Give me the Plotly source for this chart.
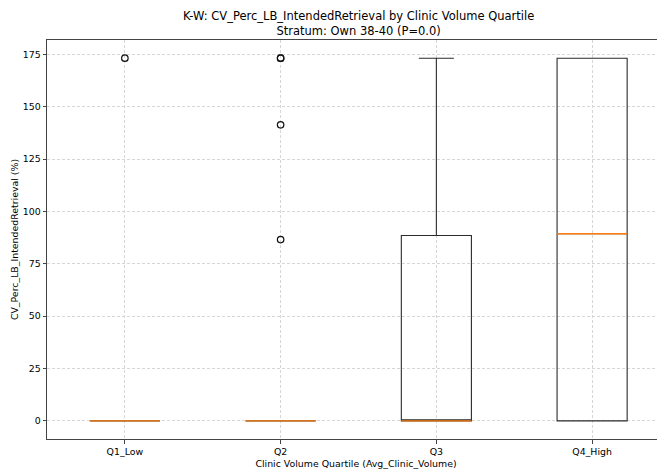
import plotly.graph_objects as go

categories = ["Q1_Low", "Q2", "Q3", "Q4_High"]
positions = [1, 2, 3, 4]
q1 = [0.0, 0.0, 0.0, 0.0]
median = [0.0, 0.0, 0.0, 89.4]
q3 = [0.0, 0.0, 88.5, 173.2]
lower = [0.0, 0.0, 0.0, 0.0]
upper = [0.0, 0.0, 173.2, 173.2]
outlier_x = [1, 2, 2, 2, 2]
outlier_y = [173.2, 173.2, 173.2, 141.4, 86.6]
yticks = [0, 25, 50, 75, 100, 125, 150, 175]

BOX_W = 0.45
FONT = "DejaVu Sans"
# the page body has an 8px default margin; size the figure to fit the window
PAGE_OFF = 8

fig = go.Figure()
for i, cat in enumerate(categories):
    fig.add_trace(go.Box(
        x=[positions[i]], q1=[q1[i]], median=[median[i]], q3=[q3[i]],
        lowerfence=[lower[i]], upperfence=[upper[i]],
        width=BOX_W, whiskerwidth=0.5,
        line=dict(color="#2b2b2b", width=1.1),
        fillcolor="rgba(0,0,0,0)", boxpoints=False, showlegend=False,
        hoverinfo="skip",
    ))
    fig.add_trace(go.Scatter(
        x=[positions[i] - BOX_W / 2, positions[i] + BOX_W / 2],
        y=[median[i], median[i]], mode="lines",
        line=dict(color="#ff7f0e", width=1.4), showlegend=False,
        hoverinfo="skip",
    ))

fig.add_trace(go.Scatter(
    x=outlier_x, y=outlier_y, mode="markers",
    marker=dict(symbol="circle-open", size=6.5, color="#111111", line=dict(width=1.2)),
    showlegend=False, hoverinfo="skip",
))

fig.add_annotation(
    text="K-W: CV_Perc_LB_IntendedRetrieval by Clinic Volume Quartile<br>Stratum: Own 38-40 (P=0.0)",
    xref="paper", yref="paper", x=0.504, y=1, yanchor="bottom", yshift=0,
    showarrow=False, font=dict(family=FONT, size=11.5, color="#000000"),
)

fig.update_layout(
    width=665 - PAGE_OFF, height=471 - PAGE_OFF,
    margin=dict(l=47 - PAGE_OFF, r=0, t=40 - PAGE_OFF, b=32),
    paper_bgcolor="white", plot_bgcolor="white",
    font=dict(family=FONT, size=9.4, color="#000000"),
    xaxis=dict(
        range=[0.5, 4.468], tickmode="array", tickvals=positions, ticktext=categories,
        showgrid=True, gridcolor="#d6d6d6", griddash="3px,2px", gridwidth=0.8,
        showline=True, linecolor="#444444", linewidth=1, mirror=True,
        ticks="outside", ticklen=3.5, tickcolor="#444444",
        zeroline=False, automargin=False,
        title=dict(text="Clinic Volume Quartile (Avg_Clinic_Volume)", standoff=4,
                   font=dict(family=FONT, size=9.4)),
    ),
    yaxis=dict(
        range=[-8.66, 181.9], tickmode="array", tickvals=yticks,
        showgrid=True, gridcolor="#d6d6d6", griddash="3px,2px", gridwidth=0.8,
        showline=True, linecolor="#444444", linewidth=1, mirror=False,
        ticks="outside", ticklen=3.5, tickcolor="#444444",
        zeroline=False, automargin=False,
        title=dict(text="CV_Perc_LB_IntendedRetrieval (%)", standoff=2,
                   font=dict(family=FONT, size=9.4)),
    ),
)

fig.write_html("out.html")
